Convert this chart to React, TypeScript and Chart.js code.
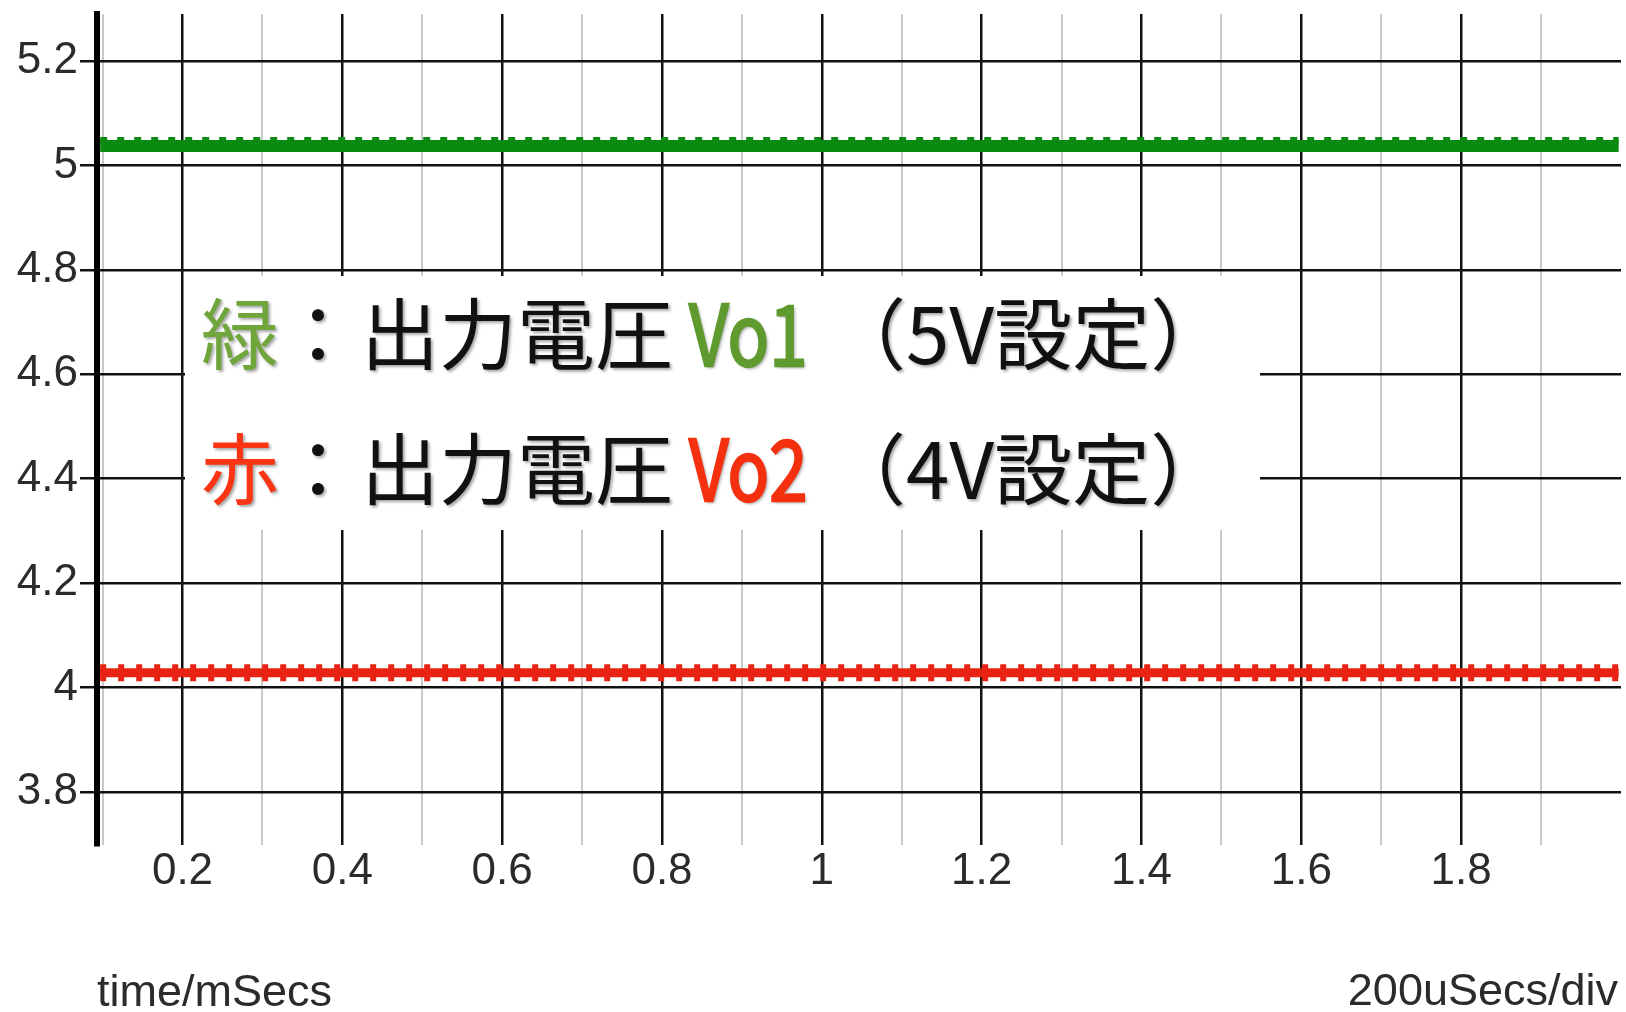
import React, { useEffect, useRef } from 'react';
import { Chart, registerables } from 'chart.js';

Chart.register(...registerables);

// ---- data ----
const timeMs = [0.097, 0.3, 0.6, 0.9, 1.2, 1.5, 1.8, 1.997];
const vo1 = [5.037, 5.037, 5.037, 5.037, 5.037, 5.037, 5.037, 5.037];
const vo2 = [4.028, 4.028, 4.028, 4.028, 4.028, 4.028, 4.028, 4.028];
const yTicks = [3.8, 4.0, 4.2, 4.4, 4.6, 4.8, 5.0, 5.2];
const xMajorTicks = [0.2, 0.4, 0.6, 0.8, 1.0, 1.2, 1.4, 1.6, 1.8];
const xMinorTicks = [0.1, 0.3, 0.5, 0.7, 0.9, 1.1, 1.3, 1.5, 1.7, 1.9];
const xTitleLeft = 'time/mSecs';
const xTitleRight = '200uSecs/div';
const legendLine1 = ['緑', '：', '出力電圧', 'Vo1', '（5V設定）'];
const legendLine2 = ['赤', '：', '出力電圧', 'Vo2', '（4V設定）'];

const GREEN = '#0b8a12';
const RED = '#e82314';
const LEG_GREEN = '#6fa53a';
const LEG_RED = '#fb3514';
const LABEL_FONT = 'Liberation Sans, Arial, Helvetica, sans-serif';
const CJK_FONT = '"Noto Sans CJK JP", "Noto Sans", sans-serif';

const fmt = (v: number) => String(Number(v.toFixed(1)));
const isMajor = (v: number) => xMajorTicks.some((m) => Math.abs(m - v) < 1e-6);

const overlayOffsetPlugin = {
  id: 'overlayOffset',
  beforeDatasetDraw(chart: any, args: any) {
    const ds = chart.data.datasets[args.index];
    chart.ctx.save();
    if (ds.offsetY) chart.ctx.translate(0, ds.offsetY);
  },
  afterDatasetDraw(chart: any) {
    chart.ctx.restore();
  },
};

const annotationPlugin = {
  id: 'annot',
  afterDraw(chart: any) {
    const ctx = chart.ctx as CanvasRenderingContext2D;
    ctx.save();
    // right x-axis caption
    ctx.font = `45px ${LABEL_FONT}`;
    ctx.fillStyle = '#2b2b2b';
    ctx.textAlign = 'right';
    ctx.textBaseline = 'middle';
    ctx.fillText(xTitleRight, 1618, 993);

    // legend box
    ctx.fillStyle = '#ffffff';
    ctx.fillRect(185, 276, 1075, 254);

    const lines = [
      { parts: legendLine1, y: 334, color: LEG_GREEN, dark: '#5f9a2f' },
      { parts: legendLine2, y: 469, color: LEG_RED, dark: '#f4300f' },
    ];
    const xs = [201, 279, 361, 689, 828];
    ctx.textAlign = 'left';
    ctx.textBaseline = 'middle';
    ctx.shadowColor = 'rgba(0,0,0,0.35)';
    ctx.shadowBlur = 3;
    ctx.shadowOffsetX = 2;
    ctx.shadowOffsetY = 2;
    lines.forEach((ln) => {
      ln.parts.forEach((p, i) => {
        if (i === 0) {
          ctx.fillStyle = ln.color;
          ctx.font = `78px ${CJK_FONT}`;
          ctx.fillText(p, xs[i], ln.y);
        } else if (i === 3) {
          ctx.save();
          ctx.fillStyle = ln.dark;
          ctx.strokeStyle = ln.dark;
          ctx.lineWidth = 2.5;
          ctx.font = `84px ${CJK_FONT}`;
          ctx.translate(xs[i], ln.y);
          ctx.scale(0.82, 1);
          ctx.fillText(p, 0, 0);
          ctx.shadowColor = 'transparent';
          ctx.strokeText(p, 0, 0);
          ctx.restore();
        } else {
          ctx.fillStyle = '#111111';
          ctx.font = `78px ${CJK_FONT}`;
          ctx.fillText(p, xs[i], ln.y);
        }
      });
    });
    ctx.restore();
  },
};

export default function App() {
  const ref = useRef<HTMLCanvasElement | null>(null);
  useEffect(() => {
    if (!ref.current) return;
    const chart = new Chart(ref.current, {
      type: 'line',
      data: {
        labels: timeMs,
        datasets: [
          {
            label: 'Vo1',
            data: timeMs.map((t, i) => ({ x: t, y: vo1[i] })),
            borderColor: GREEN,
            borderWidth: 12,
            pointRadius: 0,
            borderCapStyle: 'butt',
          },
          {
            label: 'Vo1 ripple',
            data: timeMs.map((t, i) => ({ x: t, y: vo1[i] })),
            borderColor: GREEN,
            borderWidth: 8,
            borderDash: [7, 10],
            pointRadius: 0,
            borderCapStyle: 'butt',
            offsetY: -5,
          } as any,
          {
            label: 'Vo2',
            data: timeMs.map((t, i) => ({ x: t, y: vo2[i] })),
            borderColor: RED,
            borderWidth: 9,
            pointRadius: 0,
            borderCapStyle: 'butt',
          },
          {
            label: 'Vo2 ripple',
            data: timeMs.map((t, i) => ({ x: t, y: vo2[i] })),
            borderColor: RED,
            borderWidth: 17,
            borderDash: [6, 12],
            pointRadius: 0,
            borderCapStyle: 'butt',
          },
        ],
      },
      options: {
        animation: false,
        responsive: false,
        layout: { padding: { top: 14, right: 5, left: 0, bottom: 0 } },
        plugins: { legend: { display: false }, tooltip: { enabled: false } },
        scales: {
          x: {
            type: 'linear',
            min: 0.093,
            max: 2.0,
            afterBuildTicks: (scale: any) => {
              scale.ticks = [...xMinorTicks, ...xMajorTicks]
                .sort((a, b) => a - b)
                .map((v) => ({ value: v }));
            },
            afterFit: (scale: any) => {
              scale.height = 167;
              scale.paddingLeft = 0;
              scale.paddingRight = 0;
            },
            ticks: {
              autoSkip: false,
              maxRotation: 0,
              padding: 0,
              color: '#2b2b2b',
              font: { family: LABEL_FONT, size: 44 },
              callback: (v: any) => (isMajor(Number(v)) ? fmt(Number(v)) : ''),
            },
            grid: {
              drawTicks: false,
              color: (c: any) => (c.tick && isMajor(c.tick.value) ? '#111111' : '#c9c9c9'),
              lineWidth: (c: any) => (c.tick && isMajor(c.tick.value) ? 2.5 : 2),
            },
            border: { display: false },
            title: {
              display: true,
              text: xTitleLeft,
              align: 'start',
              color: '#2b2b2b',
              font: { family: LABEL_FONT, size: 45, lineHeight: 0.84 },
              padding: { top: 0, bottom: 0 },
            },
          },
          y: {
            type: 'linear',
            min: 3.698,
            max: 5.29,
            afterBuildTicks: (scale: any) => {
              scale.ticks = yTicks.map((v) => ({ value: v }));
            },
            afterFit: (scale: any) => {
              scale.width = 97;
              scale.paddingTop = 0;
              scale.paddingBottom = 0;
            },
            ticks: {
              padding: 2,
              color: '#2b2b2b',
              font: { family: LABEL_FONT, size: 44 },
              callback: (v: any) => fmt(Number(v)),
            },
            grid: {
              color: '#111111',
              lineWidth: 2.5,
              tickLength: 17,
              tickColor: '#111111',
              tickWidth: 2.5,
            },
            border: { display: true, color: '#000000', width: 6 },
          },
        },
      } as any,
      plugins: [overlayOffsetPlugin, annotationPlugin],
    });
    return () => chart.destroy();
  }, []);

  return (
    <div style={{ position: 'fixed', left: 0, top: 0, width: 1626, height: 1012, background: '#fff' }}>
      <canvas ref={ref} width={1626} height={1012} style={{ display: 'block' }} />
    </div>
  );
}
